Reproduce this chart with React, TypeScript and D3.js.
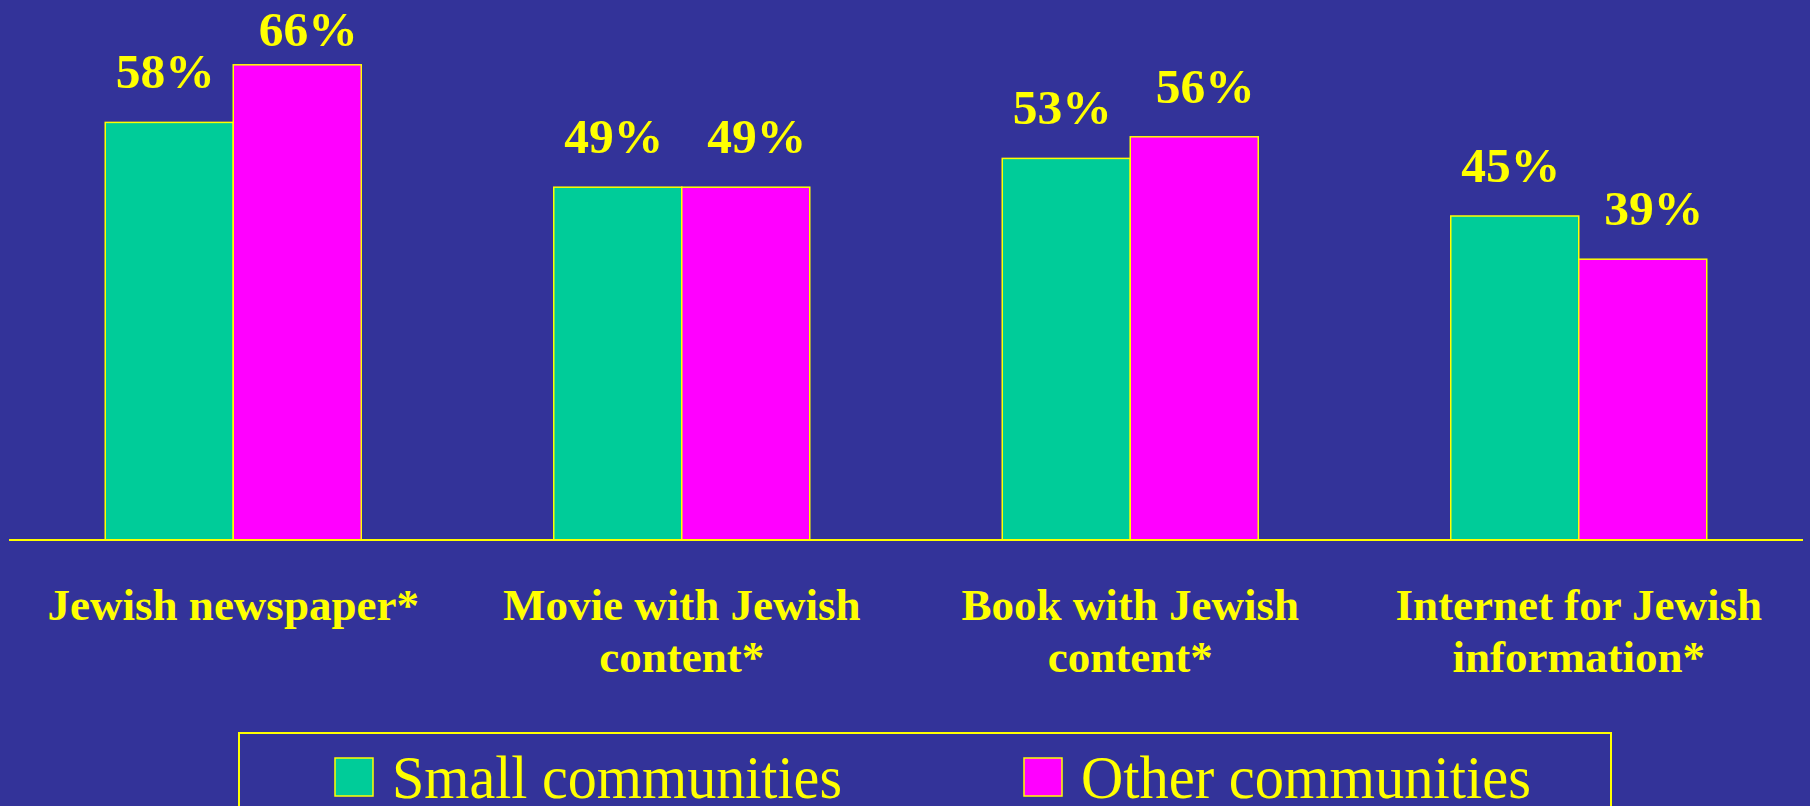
import React from "react";
import * as d3 from "d3";

const categories = ["Jewish newspaper*", "Movie with Jewish content*", "Book with Jewish content*", "Internet for Jewish information*"];
const categoryLines = [["Jewish newspaper*"], ["Movie with Jewish", "content*"], ["Book with Jewish", "content*"], ["Internet for Jewish", "information*"]];
const seriesNames = ["Small communities", "Other communities"];
const smallValues = [58, 49, 53, 45];
const otherValues = [66, 49, 56, 39];

const W = 1810;
const H = 806;
const BG = "#333399";
const YELLOW = "#FFFF00";
const COLORS = ["#00CC99", "#FF00FF"];
const LABEL_NUDGE = [-4, 11];
const FONT = "'Liberation Serif', 'Times New Roman', serif";

export default function App() {
  const x0 = d3.scaleBand<string>().domain(categories).range([9, 1803]).paddingInner(0).paddingOuter(0);
  const bw = x0.bandwidth();
  const x1 = d3.scaleBand<string>().domain(seriesNames).range([(bw - 256) / 2, (bw + 256) / 2]).padding(0);
  const y = d3.scaleLinear().domain([0, 75]).range([540, 0]);
  const values = [smallValues, otherValues];

  return (
    <svg width={W} height={H} style={{ position: "fixed", left: 0, top: 0, display: "block" }}>
      <rect x={0} y={0} width={W} height={H} fill={BG} />
      {categories.map((c, ci) => (
        <g key={c} transform={`translate(${x0(c)},0)`}>
          {seriesNames.map((s, si) => {
            const v = values[si][ci];
            const bx = x1(s)!;
            const top = y(v);
            return (
              <g key={s}>
                <rect x={bx} y={top} width={x1.bandwidth()} height={y(0) - top} fill={COLORS[si]} stroke={YELLOW} strokeWidth={1.5} />
                <text x={bx + x1.bandwidth() / 2 + LABEL_NUDGE[si]} y={Math.max(top - 34, 46)} textAnchor="middle" fill={YELLOW} fontFamily={FONT} fontWeight="bold" fontSize={49.5}>
                  {v}%
                </text>
              </g>
            );
          })}
          {categoryLines[ci].map((line, li) => (
            <text key={li} x={bw / 2} y={620 + li * 52} textAnchor="middle" fill={YELLOW} fontFamily={FONT} fontWeight="bold" fontSize={45}>
              {line}
            </text>
          ))}
        </g>
      ))}
      <line x1={9} x2={1803} y1={y(0)} y2={y(0)} stroke={YELLOW} strokeWidth={2} />
      <rect x={239} y={733} width={1372} height={110} fill="none" stroke={YELLOW} strokeWidth={2} />
      {seriesNames.map((s, si) => {
        const lx = si === 0 ? 335 : 1024;
        return (
          <g key={s}>
            <rect x={lx} y={758} width={38} height={38} fill={COLORS[si]} stroke={YELLOW} strokeWidth={1.5} />
            <text x={lx + 57} y={798} fill={YELLOW} fontFamily={FONT} fontSize={62} textLength={450} lengthAdjust="spacingAndGlyphs">
              {s}
            </text>
          </g>
        );
      })}
    </svg>
  );
}
